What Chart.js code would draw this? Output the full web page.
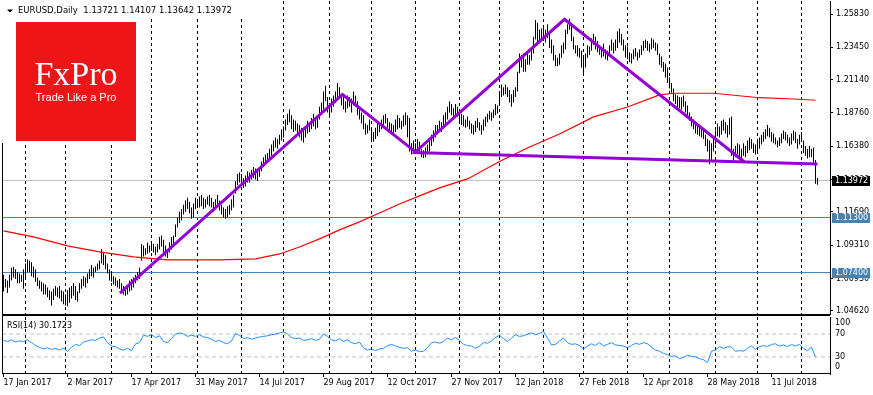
<!DOCTYPE html>
<html>
<head>
<meta charset="utf-8">
<script src="https://cdn.jsdelivr.net/npm/chart.js@4.4.1/dist/chart.umd.min.js"></script>
<style>
  html, body { margin: 0; padding: 0; background: #fff; }
  #wrap { position: relative; width: 873px; height: 395px; overflow: hidden; }
  #mainBox { position: absolute; left: 0; top: 0; width: 873px; height: 315px; }
  #rsiBox { position: absolute; left: 0; top: 315px; width: 873px; height: 80px; }
</style>
</head>
<body>
<div id="wrap">
  <div id="mainBox"><canvas id="mainChart"></canvas></div>
  <div id="rsiBox"><canvas id="rsiChart"></canvas></div>
</div>
<script>
// daily bars, 17 Jan 2017 .. mid Aug 2018 (one entry per trading day)
const highs = [
  1.0720,1.0690,1.0680,1.0720,1.0770,1.0775,1.0760,1.0740,1.0730,1.0720,
  1.0760,1.0800,1.0830,1.0820,1.0810,1.0780,1.0760,1.0700,1.0680,1.0670,
  1.0660,1.0650,1.0630,1.0610,1.0600,1.0620,1.0640,1.0630,1.0640,1.0610,
  1.0600,1.0580,1.0610,1.0630,1.0640,1.0660,1.0640,1.0600,1.0660,1.0690,
  1.0710,1.0700,1.0730,1.0760,1.0790,1.0770,1.0780,1.0800,1.0820,1.0905,
  1.0880,1.0860,1.0800,1.0760,1.0740,1.0710,1.0700,1.0680,1.0690,1.0660,
  1.0640,1.0620,1.0640,1.0680,1.0690,1.0700,1.0720,1.0740,1.0770,1.0940,
  1.0930,1.0910,1.0950,1.0930,1.0960,1.0940,1.0920,1.0940,1.0990,1.1000,
  1.0970,1.0930,1.0900,1.0950,1.0990,1.1000,1.1080,1.1130,1.1170,1.1190,
  1.1220,1.1250,1.1270,1.1240,1.1200,1.1230,1.1270,1.1250,1.1280,1.1290,
  1.1270,1.1260,1.1280,1.1290,1.1270,1.1240,1.1260,1.1290,1.1250,1.1220,
  1.1200,1.1190,1.1210,1.1220,1.1260,1.1290,1.1390,1.1440,1.1450,1.1440,
  1.1410,1.1430,1.1460,1.1450,1.1470,1.1490,1.1480,1.1460,1.1490,1.1530,
  1.1560,1.1580,1.1590,1.1620,1.1650,1.1680,1.1700,1.1690,1.1720,1.1760,
  1.1780,1.1830,1.1870,1.1900,1.1860,1.1830,1.1820,1.1800,1.1790,1.1770,
  1.1760,1.1780,1.1820,1.1810,1.1840,1.1870,1.1830,1.1850,1.1920,1.1950,
  1.2030,1.2070,1.1990,1.1940,1.1980,1.2000,1.2030,1.2090,1.2060,1.2010,
  1.1990,1.1960,1.2000,1.1990,1.1980,1.2030,1.2000,1.1960,1.1920,1.1880,
  1.1860,1.1800,1.1790,1.1830,1.1760,1.1740,1.1770,1.1800,1.1810,1.1830,
  1.1860,1.1870,1.1840,1.1810,1.1800,1.1790,1.1830,1.1860,1.1840,1.1820,
  1.1860,1.1880,1.1860,1.1840,1.1660,1.1680,1.1660,1.1690,1.1670,1.1620,
  1.1610,1.1630,1.1650,1.1680,1.1720,1.1750,1.1790,1.1790,1.1820,1.1810,
  1.1860,1.1880,1.1920,1.1960,1.1940,1.1910,1.1940,1.1920,1.1880,1.1870,
  1.1860,1.1830,1.1850,1.1820,1.1800,1.1790,1.1820,1.1840,1.1810,1.1790,
  1.1830,1.1850,1.1870,1.1890,1.1880,1.1900,1.1940,1.1930,1.2030,1.2080,
  1.2060,1.2080,1.2060,1.2040,1.2010,1.2040,1.2060,1.2170,1.2300,1.2290,
  1.2300,1.2260,1.2300,1.2290,1.2330,1.2420,1.2540,1.2520,1.2470,1.2480,
  1.2500,1.2470,1.2510,1.2450,1.2400,1.2360,1.2290,1.2270,1.2300,1.2360,
  1.2380,1.2470,1.2510,1.2550,1.2520,1.2420,1.2360,1.2360,1.2340,1.2320,
  1.2270,1.2300,1.2360,1.2350,1.2410,1.2440,1.2420,1.2390,1.2360,1.2340,
  1.2370,1.2330,1.2320,1.2360,1.2400,1.2380,1.2400,1.2460,1.2480,1.2440,
  1.2400,1.2360,1.2350,1.2310,1.2300,1.2330,1.2340,1.2310,1.2330,1.2360,
  1.2390,1.2400,1.2390,1.2370,1.2410,1.2400,1.2380,1.2370,1.2300,1.2280,
  1.2240,1.2230,1.2200,1.2130,1.2090,1.2050,1.2010,1.2000,1.1990,1.1990,
  1.2000,1.1960,1.1930,1.1880,1.1850,1.1830,1.1800,1.1790,1.1770,1.1760,
  1.1760,1.1720,1.1690,1.1680,1.1660,1.1700,1.1750,1.1800,1.1780,1.1820,
  1.1830,1.1810,1.1790,1.1840,1.1850,1.1620,1.1640,1.1660,1.1650,1.1620,
  1.1660,1.1640,1.1680,1.1700,1.1690,1.1660,1.1650,1.1670,1.1700,1.1720,
  1.1740,1.1760,1.1790,1.1770,1.1740,1.1730,1.1700,1.1680,1.1700,1.1730,
  1.1750,1.1740,1.1720,1.1700,1.1730,1.1750,1.1740,1.1690,1.1720,1.1740,
  1.1680,1.1640,1.1620,1.1640,1.1620,1.1630,1.1540,1.1411
];
const lows = [
  1.0600,1.0630,1.0590,1.0630,1.0680,1.0700,1.0690,1.0660,1.0660,1.0670,
  1.0620,1.0700,1.0740,1.0740,1.0710,1.0700,1.0670,1.0640,1.0620,1.0600,
  1.0580,1.0580,1.0560,1.0540,1.0500,1.0540,1.0570,1.0560,1.0550,1.0530,
  1.0510,1.0500,1.0495,1.0520,1.0550,1.0570,1.0540,1.0530,1.0590,1.0620,
  1.0640,1.0630,1.0660,1.0690,1.0710,1.0700,1.0740,1.0750,1.0760,1.0800,
  1.0790,1.0760,1.0730,1.0680,1.0670,1.0650,1.0640,1.0630,1.0620,1.0600,
  1.0580,1.0570,1.0580,1.0600,1.0610,1.0630,1.0660,1.0680,1.0690,1.0820,
  1.0850,1.0860,1.0870,1.0880,1.0890,1.0880,1.0860,1.0880,1.0900,1.0920,
  1.0880,1.0850,1.0840,1.0880,1.0900,1.0920,1.0990,1.1060,1.1090,1.1110,
  1.1150,1.1170,1.1190,1.1160,1.1120,1.1130,1.1190,1.1200,1.1200,1.1210,
  1.1190,1.1200,1.1220,1.1210,1.1200,1.1170,1.1190,1.1200,1.1180,1.1150,
  1.1130,1.1120,1.1130,1.1150,1.1180,1.1200,1.1300,1.1360,1.1380,1.1370,
  1.1340,1.1350,1.1380,1.1380,1.1400,1.1410,1.1400,1.1390,1.1420,1.1460,
  1.1490,1.1510,1.1520,1.1550,1.1570,1.1600,1.1630,1.1620,1.1650,1.1680,
  1.1700,1.1750,1.1790,1.1810,1.1760,1.1740,1.1750,1.1730,1.1700,1.1680,
  1.1665,1.1700,1.1730,1.1740,1.1760,1.1780,1.1760,1.1770,1.1830,1.1870,
  1.1900,1.1960,1.1880,1.1860,1.1880,1.1920,1.1950,1.1980,1.1990,1.1930,
  1.1900,1.1880,1.1910,1.1920,1.1880,1.1930,1.1920,1.1860,1.1830,1.1800,
  1.1760,1.1720,1.1730,1.1750,1.1690,1.1670,1.1690,1.1710,1.1740,1.1760,
  1.1790,1.1800,1.1770,1.1750,1.1730,1.1720,1.1740,1.1760,1.1770,1.1760,
  1.1780,1.1790,1.1700,1.1600,1.1580,1.1600,1.1590,1.1610,1.1600,1.1560,
  1.1555,1.1560,1.1580,1.1600,1.1640,1.1670,1.1700,1.1730,1.1750,1.1740,
  1.1770,1.1800,1.1830,1.1880,1.1860,1.1830,1.1860,1.1850,1.1800,1.1790,
  1.1780,1.1770,1.1780,1.1760,1.1730,1.1720,1.1740,1.1770,1.1750,1.1720,
  1.1750,1.1780,1.1810,1.1830,1.1820,1.1840,1.1860,1.1870,1.1940,1.1990,
  1.2000,1.2010,1.1990,1.1950,1.1920,1.1950,1.1990,1.2030,1.2160,1.2200,
  1.2170,1.2170,1.2220,1.2220,1.2250,1.2300,1.2400,1.2360,1.2390,1.2390,
  1.2390,1.2380,1.2410,1.2340,1.2300,1.2250,1.2210,1.2210,1.2220,1.2270,
  1.2300,1.2330,1.2440,1.2470,1.2390,1.2330,1.2300,1.2280,1.2270,1.2200,
  1.2150,1.2200,1.2270,1.2290,1.2320,1.2360,1.2330,1.2310,1.2290,1.2270,
  1.2280,1.2260,1.2250,1.2280,1.2320,1.2300,1.2320,1.2340,1.2380,1.2360,
  1.2320,1.2270,1.2260,1.2240,1.2230,1.2260,1.2280,1.2250,1.2270,1.2290,
  1.2320,1.2340,1.2320,1.2310,1.2330,1.2340,1.2320,1.2290,1.2220,1.2200,
  1.2170,1.2130,1.2090,1.2050,1.2020,1.1960,1.1940,1.1910,1.1910,1.1900,
  1.1920,1.1880,1.1840,1.1820,1.1780,1.1760,1.1730,1.1720,1.1710,1.1700,
  1.1690,1.1640,1.1600,1.1510,1.1540,1.1600,1.1650,1.1710,1.1700,1.1720,
  1.1750,1.1730,1.1700,1.1720,1.1570,1.1540,1.1560,1.1580,1.1560,1.1530,
  1.1570,1.1560,1.1590,1.1610,1.1620,1.1590,1.1580,1.1590,1.1620,1.1650,
  1.1670,1.1690,1.1710,1.1700,1.1670,1.1660,1.1650,1.1630,1.1640,1.1660,
  1.1690,1.1680,1.1660,1.1640,1.1650,1.1680,1.1660,1.1620,1.1650,1.1670,
  1.1590,1.1570,1.1550,1.1560,1.1560,1.1520,1.1370,1.1364
];

// RSI(14), one value every second bar
const rsi = [
  59,57,60,56,58,57,60,55,50,47, 44,46,43,45,42,45,40,47,52,50,
  56,58,60,59,63,65,55,49,48,44, 42,45,41,53,55,68,66,69,64,67,
  57,55,62,70,72,70,66,68,66,69, 65,64,61,57,59,55,53,58,71,68,
  62,64,61,63,65,66,67,69,70,72, 74,70,64,62,63,59,60,62,59,61,
  70,66,60,58,62,57,60,55,53,56, 46,42,44,41,44,45,50,52,49,47,
  45,46,40,42,39,40,46,55,56,54, 57,63,60,64,59,52,50,49,45,49,
  55,54,58,64,68,62,57,63,69,66, 67,70,72,69,71,75,63,51,52,58,
  63,55,52,53,50,44,49,53,50,55, 49,52,55,51,50,49,46,50,54,52,
  55,53,47,42,40,36,34,31,32,27, 29,33,31,30,27,25,20,40,42,48,
  45,48,47,40,41,40,45,49,43,48, 50,48,52,53,49,51,48,52,49,52,
  45,41,47,30
];

// 200-day moving average (bar index / value)
const maIdx = [0,10,15,32,48,65,82,108,126,138,148,158,168,178,188,198,208,218,232,248,263,278,295,312,328,335,355,378,395,406];
const maVal = [1.1034,1.1005,1.0991,1.0927,1.0884,1.0848,1.0827,1.0827,1.0834,1.0869,1.0919,1.0977,1.1041,1.1098,1.1162,1.1226,1.1284,1.1341,1.1405,1.1530,1.1633,1.1726,1.1848,1.1919,1.2005,1.2017,1.2017,1.1985,1.1976,1.1967];

// drawn trend lines
const trendIdx = [58.2, 169.5, 206, 280.5, 370.5];
const trendVal = [1.0589, 1.2008, 1.1598, 1.2545, 1.1526];
const supportIdx = [204.5, 407];
const supportVal = [1.1593, 1.1512];

const levelVals = [1.11300, 1.07400];
const lastPrice = 1.13972;
const priceTicks = [1.25830, 1.23450, 1.21140, 1.18760, 1.16380, 1.14000, 1.11690, 1.09310, 1.06930, 1.04620];
const rsiTicks = [100, 70, 30, 0];
const rsiLevels = [30, 70];

const monthStarts = [11, 31, 54, 74, 97, 119, 140, 163, 184, 206, 228, 248, 270, 290, 312, 333, 356, 377, 399];
const dateIdx = [0, 32, 64, 96, 128, 160, 192, 224, 256, 288, 320, 352, 384];
const dateLabels = ["17 Jan 2017", "2 Mar 2017", "17 Apr 2017", "31 May 2017", "14 Jul 2017", "29 Aug 2017",
  "12 Oct 2017", "27 Nov 2017", "12 Jan 2018", "27 Feb 2018", "12 Apr 2018", "28 May 2018", "11 Jul 2018"];

const FONT = "DejaVu Sans";
const X_MIN = -0.75, X_MAX = 413.25;

Chart.defaults.font.family = FONT;
Chart.defaults.font.size = 8;
Chart.defaults.color = "#000";

const xy = (xs, ys) => xs.map((x, i) => ({ x, y: ys[i] }));
const flat = (v) => [{ x: X_MIN, y: v }, { x: X_MAX, y: v }];

// keep the plot area fixed, the axis labels may overhang
const fixRightAxis = s => {
  s.width = 43;
  s.paddingTop = 0;
  s.paddingBottom = 0;
};

// dashed month separators, same in both panels
const monthGrid = {
  id: "monthGrid",
  beforeDatasetsDraw(chart) {
    const { ctx, chartArea: a, scales: { x } } = chart;
    ctx.save();
    ctx.strokeStyle = "#000";
    ctx.lineWidth = 1;
    ctx.setLineDash([3, 3]);
    monthStarts.forEach(i => {
      const px = Math.round(x.getPixelForValue(i)) - 0.5;
      ctx.beginPath();
      ctx.moveTo(px, a.top);
      ctx.lineTo(px, a.bottom);
      ctx.stroke();
    });
    ctx.restore();
  }
};

// horizontal levels, snapped to whole pixels so they stay crisp
const levelLines = {
  id: "levelLines",
  beforeDatasetsDraw(chart) {
    const { ctx, chartArea: a, scales: { y } } = chart;
    const hline = (v, color) => {
      const py = Math.round(y.getPixelForValue(v)) + 0.5;
      ctx.strokeStyle = color;
      ctx.beginPath();
      ctx.moveTo(a.left, py);
      ctx.lineTo(a.right, py);
      ctx.stroke();
    };
    ctx.save();
    ctx.lineWidth = 1;
    hline(lastPrice, "#C0C0C0");
    levelVals.forEach(v => hline(v, "#4682B4"));
    ctx.restore();
  }
};

function boxLabel(ctx, y, text, bg) {
  ctx.fillStyle = bg;
  ctx.fillRect(832, Math.round(y) - 4, 38, 10);
  ctx.fillStyle = "#fff";
  ctx.font = "8px " + FONT;
  ctx.textBaseline = "middle";
  ctx.textAlign = "left";
  ctx.fillText(text, 835, Math.round(y) + 1);
}

const mainDecor = {
  id: "mainDecor",
  afterDraw(chart) {
    const { ctx, chartArea: a, scales: { y } } = chart;
    ctx.save();
    // frame
    ctx.strokeStyle = "#000";
    ctx.lineWidth = 1;
    ctx.beginPath();
    ctx.moveTo(a.left + 0.5, a.top);
    ctx.lineTo(a.left + 0.5, a.bottom + 1);
    ctx.moveTo(a.left, a.bottom + 0.5);
    ctx.lineTo(a.right, a.bottom + 0.5);
    ctx.stroke();

    // header and logo patches
    ctx.fillStyle = "#fff";
    ctx.fillRect(0, 0, 245, 16);
    ctx.fillRect(0, 0, 142, 143);

    ctx.fillStyle = "#000";
    ctx.beginPath();
    ctx.moveTo(7, 9.5);
    ctx.lineTo(13, 9.5);
    ctx.lineTo(10, 12.5);
    ctx.closePath();
    ctx.fill();
    ctx.font = "8.5px " + FONT;
    ctx.textBaseline = "middle";
    ctx.textAlign = "left";
    ctx.fillText("EURUSD,Daily  1.13721 1.14107 1.13642 1.13972", 18, 11);

    ctx.fillStyle = "#EE1518";
    ctx.fillRect(16, 22, 120, 119);
    ctx.fillStyle = "#fff";
    ctx.textAlign = "center";
    ctx.textBaseline = "alphabetic";
    ctx.font = "34px 'Liberation Serif'";
    ctx.fillText("FxPro", 76, 85);
    ctx.font = "11px 'Liberation Sans'";
    ctx.fillText("Trade Like a Pro", 76, 100.5);

    // price boxes on the axis
    boxLabel(ctx, y.getPixelForValue(lastPrice), lastPrice.toFixed(5), "#000");
    levelVals.forEach(v => boxLabel(ctx, y.getPixelForValue(v), v.toFixed(5), "#4682B4"));
    ctx.restore();
  }
};

const rsiDecor = {
  id: "rsiDecor",
  afterDraw(chart) {
    const { ctx, chartArea: a, scales: { y } } = chart;
    ctx.save();
    ctx.strokeStyle = "#000";
    ctx.lineWidth = 1;
    ctx.beginPath();
    ctx.moveTo(a.left + 0.5, 0);
    ctx.lineTo(a.left + 0.5, a.bottom);
    ctx.moveTo(a.left, 0.5);
    ctx.lineTo(a.right, 0.5);
    ctx.moveTo(a.left, a.bottom - 0.5);
    ctx.lineTo(a.right, a.bottom - 0.5);
    ctx.stroke();

    ctx.fillStyle = "#000";
    ctx.font = "8px " + FONT;
    ctx.textBaseline = "middle";
    ctx.textAlign = "left";
    ctx.fillText("RSI(14) 30.1723", 7, 11);
    rsiTicks.forEach(v => {
      const py = Math.min(Math.max(y.getPixelForValue(v), a.top + 6), a.bottom - 7);
      ctx.fillText(String(v), 835, py);
    });
    ctx.restore();
  }
};

new Chart(document.getElementById("mainChart"), {
  type: "bar",
  data: {
    datasets: [
      { type: "line", data: xy(trendIdx, trendVal), borderColor: "#9400D3", borderWidth: 3, order: 0 },
      { type: "line", data: xy(supportIdx, supportVal), borderColor: "#9400D3", borderWidth: 3, order: 0 },
      { type: "line", data: xy(maIdx, maVal), borderColor: "#FF0000", borderWidth: 1.2, order: 1 },
      {
        data: highs.map((h, i) => ({ x: i, y: [lows[i], h] })),
        backgroundColor: "#000",
        borderWidth: 0,
        barThickness: 1,
        inflateAmount: 0,
        grouped: false,
        order: 4
      }
    ]
  },
  options: {
    animation: false,
    responsive: true,
    maintainAspectRatio: false,
    events: [],
    layout: { padding: { left: 2, top: 1, right: 0, bottom: 1 } },
    elements: { point: { radius: 0 }, line: { tension: 0 } },
    plugins: { legend: { display: false }, tooltip: { enabled: false } },
    scales: {
      x: { type: "linear", min: X_MIN, max: X_MAX, offset: false, display: false },
      y: {
        position: "right",
        min: 1.04401,
        max: 1.26759,
        afterBuildTicks: s => { s.ticks = priceTicks.map(v => ({ value: v })); },
        afterFit: fixRightAxis,
        ticks: { autoSkip: false, padding: 3, callback: v => v.toFixed(5) },
        grid: { drawOnChartArea: false, drawTicks: true, tickLength: 3, color: "#000" },
        border: { display: true, color: "#000" }
      }
    }
  },
  plugins: [monthGrid, levelLines, mainDecor]
});

new Chart(document.getElementById("rsiChart"), {
  type: "line",
  data: {
    datasets: [
      { data: rsi.map((v, k) => ({ x: 2 * k, y: v })), borderColor: "#1E90FF", borderWidth: 1 },
      { data: flat(rsiLevels[0]), borderColor: "#C0C0C0", borderWidth: 1, borderDash: [4, 3] },
      { data: flat(rsiLevels[1]), borderColor: "#C0C0C0", borderWidth: 1, borderDash: [4, 3] }
    ]
  },
  options: {
    animation: false,
    responsive: true,
    maintainAspectRatio: false,
    events: [],
    layout: { padding: { left: 2, top: 2, right: 0, bottom: 0 } },
    elements: { point: { radius: 0 }, line: { tension: 0 } },
    plugins: { legend: { display: false }, tooltip: { enabled: false } },
    scales: {
      x: {
        type: "linear",
        position: "bottom",
        min: X_MIN,
        max: X_MAX,
        afterBuildTicks: s => { s.ticks = dateIdx.map(v => ({ value: v })); },
        afterFit: s => { s.height = 21; s.paddingLeft = 0; s.paddingRight = 0; },
        ticks: {
          autoSkip: false,
          maxRotation: 0,
          align: "start",
          padding: 1,
          callback: v => dateLabels[dateIdx.indexOf(v)]
        },
        grid: { drawOnChartArea: false, drawTicks: true, tickLength: 3, color: "#000" },
        border: { display: false }
      },
      y: {
        position: "right",
        min: 0,
        max: 100,
        afterFit: fixRightAxis,
        ticks: { display: false },
        grid: { display: false },
        border: { display: true, color: "#000" }
      }
    }
  },
  plugins: [monthGrid, rsiDecor]
});
</script>
</body>
</html>
